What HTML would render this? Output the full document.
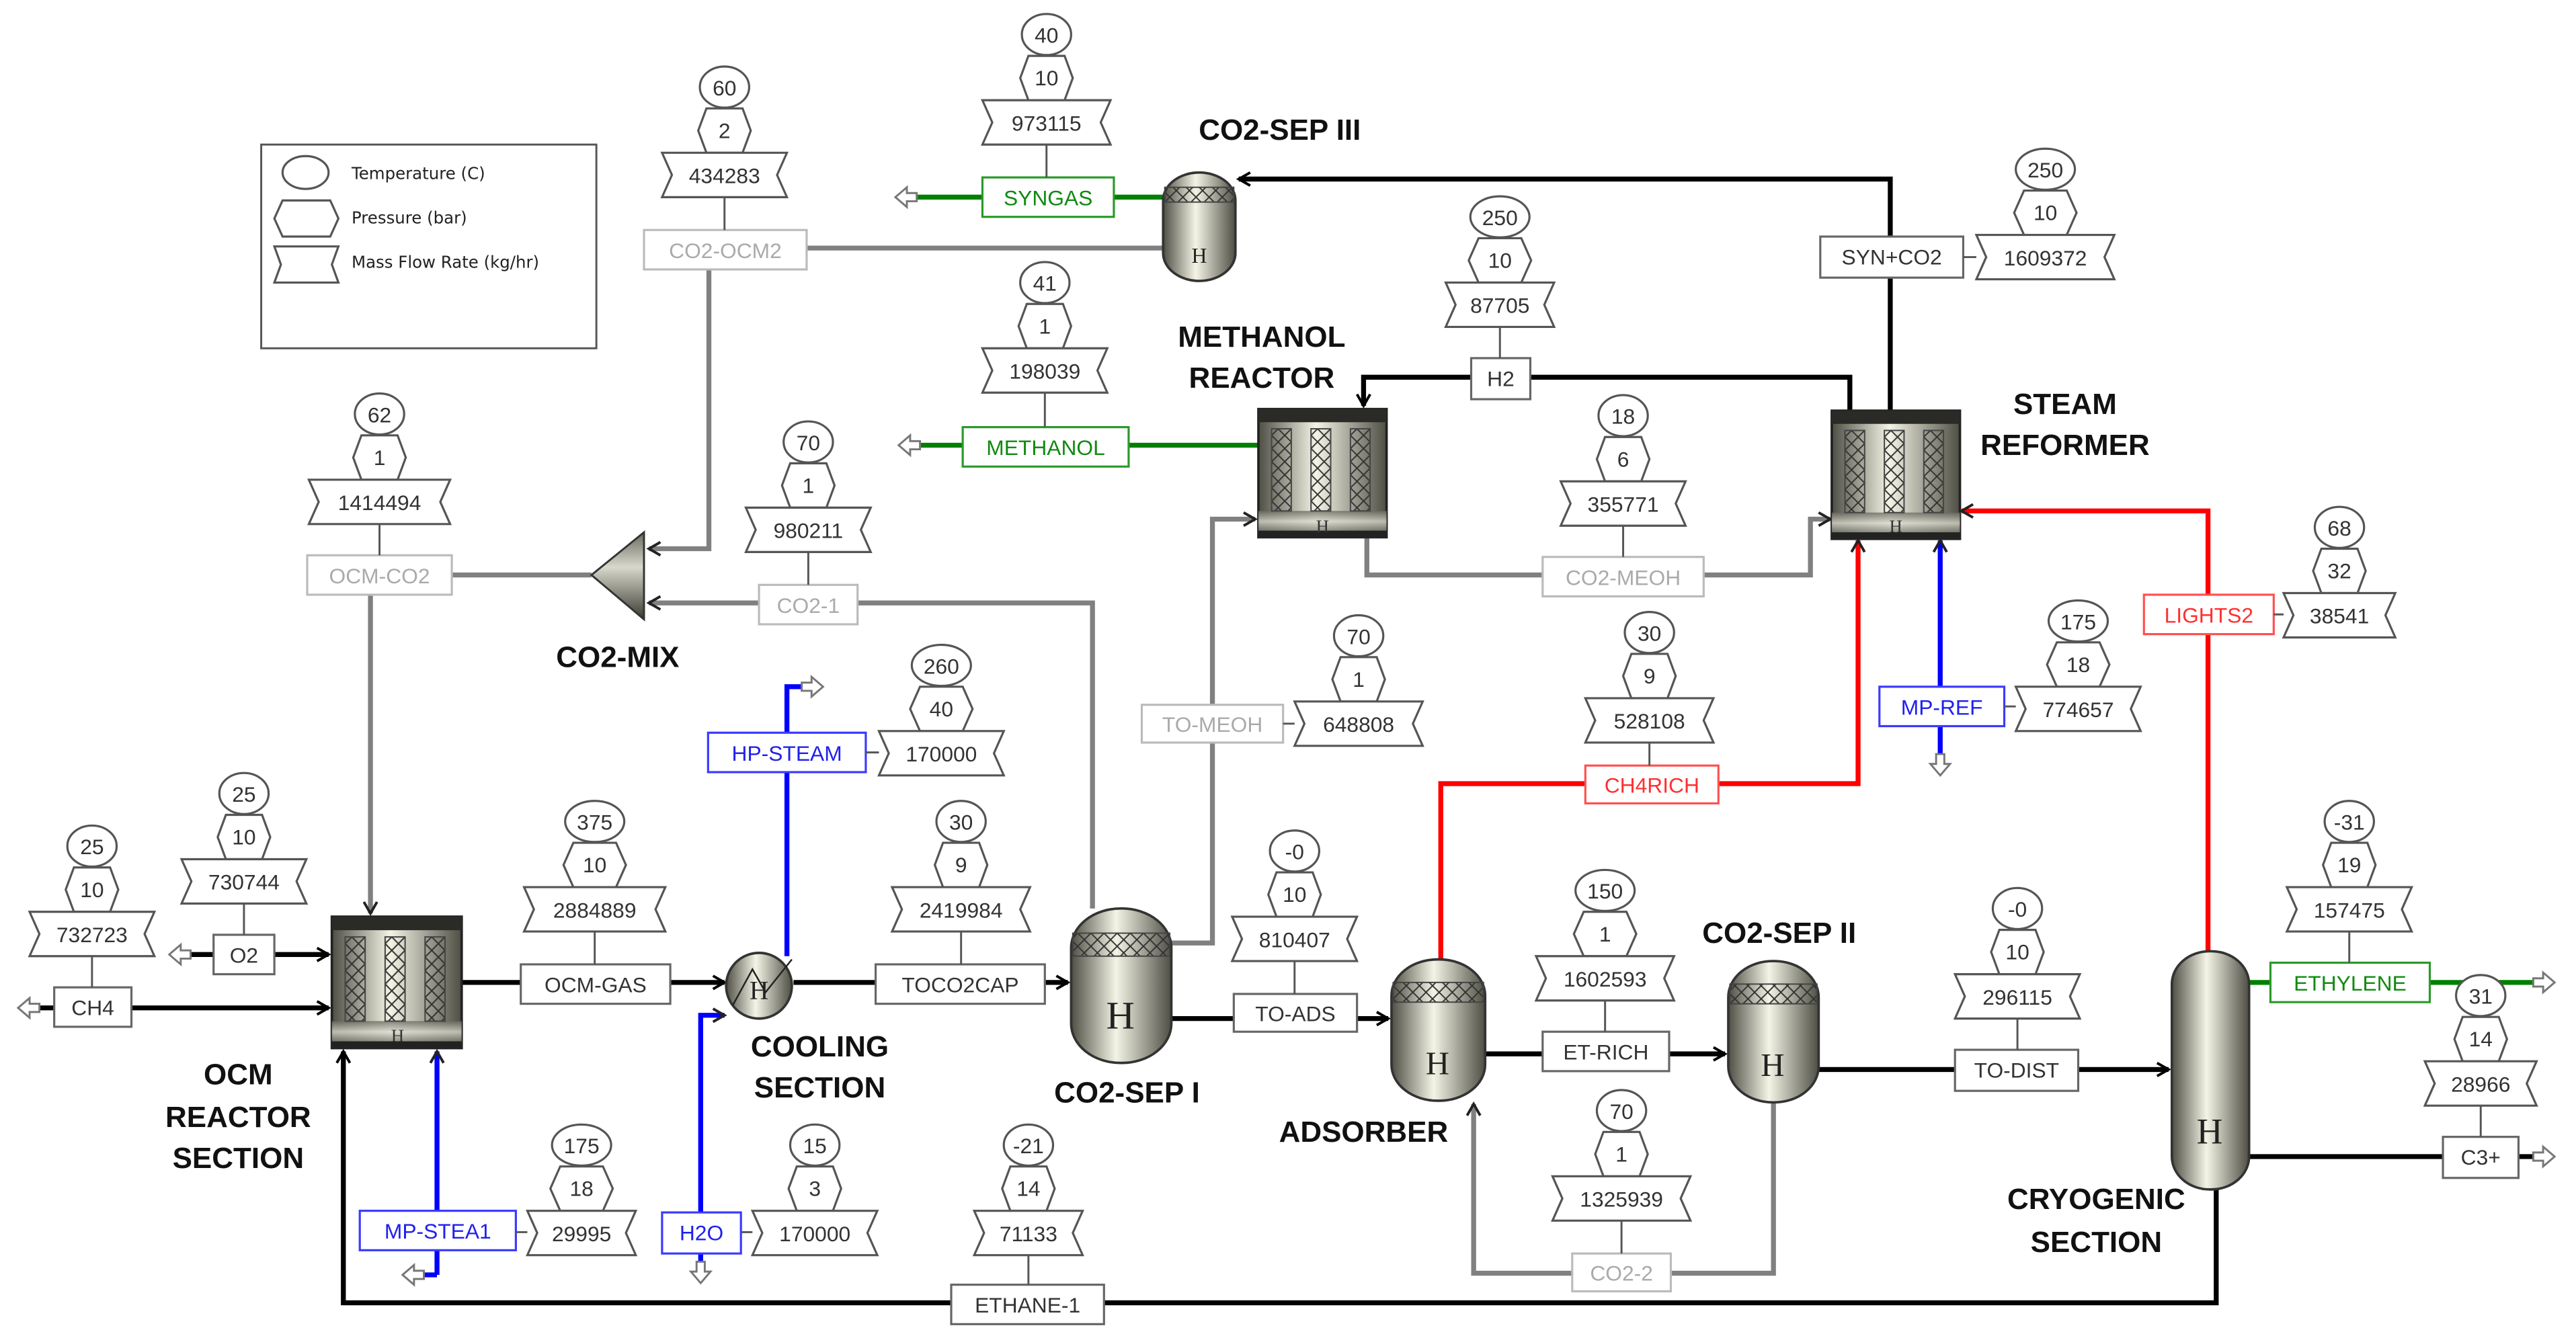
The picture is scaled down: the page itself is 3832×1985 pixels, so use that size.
<!DOCTYPE html>
<html><head><meta charset="utf-8"><style>
html,body{margin:0;padding:0;background:#fff;}
svg{display:block;}
.t{font-family:"Liberation Sans Narrow","Liberation Sans",sans-serif;font-size:13px;fill:#333;text-anchor:middle;}
.lb{font-family:"Liberation Sans",sans-serif;font-weight:bold;font-size:18px;fill:#111;text-anchor:middle;}
.sh{fill:#fff;stroke:#555;stroke-width:1.3;}
.bx{fill:#fff;stroke:#666;stroke-width:1.3;}
.k{fill:none;stroke:#000;stroke-width:3;}
.g{fill:none;stroke:#808080;stroke-width:3;}
.gr{fill:none;stroke:#008000;stroke-width:3;}
.r{fill:none;stroke:#ff0000;stroke-width:3;}
.b{fill:none;stroke:#0000ff;stroke-width:3;}
.c{stroke:#555;stroke-width:1.2;}
.o{fill:#fff;stroke:#777;stroke-width:1.2;}
</style></head><body>
<svg width="3832" height="1985" viewBox="0 0 1568 812" preserveAspectRatio="none" xmlns="http://www.w3.org/2000/svg">
<defs>
<linearGradient id="hg" x1="0" x2="1" y1="0" y2="0"><stop offset="0" stop-color="#4e4e44"/><stop offset="0.45" stop-color="#f4f4e6"/><stop offset="1" stop-color="#4e4e44"/></linearGradient>
<linearGradient id="vg" x1="0" x2="0" y1="0" y2="1"><stop offset="0" stop-color="#6a6a60"/><stop offset="0.4" stop-color="#d8d8cc"/><stop offset="1" stop-color="#3a3a32"/></linearGradient>
<pattern id="xp" width="8" height="8" patternUnits="userSpaceOnUse"><path d="M0,0 L8,8 M8,0 L0,8" stroke="#333" stroke-width="0.8"/></pattern>
<marker id="ak" markerWidth="10" markerHeight="10" refX="8" refY="5" orient="auto" markerUnits="userSpaceOnUse"><path d="M1,1 L8,5 L1,9" fill="none" stroke="#000" stroke-width="1.6"/></marker>
<marker id="ag" markerWidth="10" markerHeight="10" refX="8" refY="5" orient="auto" markerUnits="userSpaceOnUse"><path d="M1,1 L8,5 L1,9" fill="none" stroke="#222" stroke-width="1.6"/></marker>
<marker id="ar" markerWidth="10" markerHeight="10" refX="8" refY="5" orient="auto" markerUnits="userSpaceOnUse"><path d="M1,1 L8,5 L1,9" fill="none" stroke="#222" stroke-width="1.6"/></marker>
<g id="reac">
<rect x="0" y="0" width="78" height="78" fill="url(#hg)" stroke="#222" stroke-width="1.5"/>
<rect x="0" y="0" width="78" height="8" fill="#2a2a26"/>
<rect x="0" y="62" width="78" height="16" fill="url(#vg)" opacity="0.8"/>
<rect x="0" y="74" width="78" height="4" fill="#222"/>
<rect x="8" y="12" width="12" height="50" fill="url(#xp)" stroke="#444" stroke-width="0.8"/>
<rect x="32" y="12" width="12" height="50" fill="url(#xp)" stroke="#444" stroke-width="0.8"/>
<rect x="56" y="12" width="12" height="50" fill="url(#xp)" stroke="#444" stroke-width="0.8"/>
</g>
</defs>

<!-- Legend -->
<rect x="159" y="88" width="204" height="124" fill="#fff" stroke="#555" stroke-width="1.2"/>
<ellipse cx="186" cy="105" rx="14" ry="10" class="sh"/>
<polygon points="172,122 201,122 206,133 201,144 172,144 167,133" class="sh"/>
<polygon points="167,150 206,150 202,161 206,172 167,172 171,161" class="sh"/>
<text x="214" y="109" style="font-family:'DejaVu Sans',sans-serif;font-size:10px;fill:#222">Temperature (C)</text>
<text x="214" y="136" style="font-family:'DejaVu Sans',sans-serif;font-size:10px;fill:#222">Pressure (bar)</text>
<text x="214" y="163" style="font-family:'DejaVu Sans',sans-serif;font-size:10px;fill:#222">Mass Flow Rate (kg/hr)</text>

<!-- STREAMS -->
<path class="k" d="M18,613.5 H200" marker-end="url(#ak)"/>
<path class="k" d="M110,581 H200" marker-end="url(#ak)"/>
<path class="k" d="M281,598 H441" marker-end="url(#ak)"/>
<path class="k" d="M483,598 H650" marker-end="url(#ak)"/>
<path class="k" d="M712,620 H845" marker-end="url(#ak)"/>
<path class="k" d="M904,641.5 H1050" marker-end="url(#ak)"/>
<path class="k" d="M1107,651 H1320" marker-end="url(#ak)"/>
<path class="k" d="M1369,704 H1545"/>
<path class="k" d="M1349,724 V793 H209 V640" marker-end="url(#ak)"/>
<path class="k" d="M1150.6,250 V109 H754" marker-end="url(#ak)"/>
<path class="k" d="M1126,250 V229.6 H830 V247" marker-end="url(#ak)"/>
<path class="g" d="M708,151 H431.5 V334 H395" marker-end="url(#ag)"/>
<path class="g" d="M360,350 H225.5 V556" marker-end="url(#ag)"/>
<path class="g" d="M665,553 V367 H395" marker-end="url(#ag)"/>
<path class="g" d="M712,574 H738 V316 H764" marker-end="url(#ag)"/>
<path class="g" d="M832,327 V350 H1102 V316 H1114" marker-end="url(#ag)"/>
<path class="g" d="M1079.5,671 V775 H897 V672" marker-end="url(#ag)"/>
<path class="gr" d="M708,120 H552"/>
<path class="gr" d="M766,271 H554"/>
<path class="gr" d="M1369,598 H1545"/>
<path class="r" d="M877,584 V477 H1131 V329" marker-end="url(#ar)"/>
<path class="r" d="M1344,579 V311 H1194" marker-end="url(#ar)"/>
<path class="b" d="M1181,464 V329" marker-end="url(#ar)"/>
<path class="b" d="M479,582 V418 H491"/>
<path class="b" d="M426.5,772 V618 H441" marker-end="url(#ar)"/>
<path class="b" d="M266,776 V640" marker-end="url(#ar)"/>
<path class="b" d="M266,776 H252"/>

<!-- outlet arrows -->
<path class="o" d="M11,613.5 l7,-6 v3.5 h6 v5 h-6 v3.5 z"/>
<path class="o" d="M103,581 l7,-6 v3.5 h6 v5 h-6 v3.5 z"/>
<path class="o" d="M545,120 l7,-6 v3.5 h6 v5 h-6 v3.5 z"/>
<path class="o" d="M547,271 l7,-6 v3.5 h6 v5 h-6 v3.5 z"/>
<path class="o" d="M245,776 l7,-6 v3.5 h6 v5 h-6 v3.5 z"/>
<path class="o" d="M1555,598 l-7,-6 v3.5 h-6 v5 h6 v3.5 z"/>
<path class="o" d="M1555,704 l-7,-6 v3.5 h-6 v5 h6 v3.5 z"/>
<path class="o" d="M501,418 l-7,-6 v3.5 h-6 v5 h6 v3.5 z"/>
<path class="o" d="M1181,472 l-6,-7 h3.5 v-6 h5 v6 h3.5 z"/>
<path class="o" d="M426.5,781 l-6,-7 h3.5 v-6 h5 v6 h3.5 z"/>

<!-- EQUIPMENT -->
<use href="#reac" x="202" y="558" transform="translate(202,558) scale(1.013,1.025) translate(-202,-558)"/>
<use href="#reac" x="766" y="249"/>
<use href="#reac" x="1115" y="250"/>
<text x="242" y="634" style="font-family:'Liberation Serif',serif;font-size:11px;fill:#333;text-anchor:middle">H</text>
<text x="805" y="324" style="font-family:'Liberation Serif',serif;font-size:11px;fill:#333;text-anchor:middle">H</text>
<text x="1154" y="324" style="font-family:'Liberation Serif',serif;font-size:11px;fill:#333;text-anchor:middle">H</text>

<!-- mixer -->
<polygon points="360,350 392,324 392,377" fill="url(#vg)" stroke="#333" stroke-width="1.2"/>

<!-- cooler -->
<circle cx="462" cy="600" r="20" fill="url(#hg)" stroke="#333" stroke-width="1.5"/>
<path d="M446,612 L458,590 L466,604 L482,584" fill="none" stroke="#222" stroke-width="1"/>
<text x="462" y="608" style="font-family:'Liberation Serif',serif;font-size:16px;fill:#222;text-anchor:middle">H</text>

<!-- vessels -->
<rect x="652" y="553" width="61" height="94" rx="30" ry="24" fill="url(#hg)" stroke="#333" stroke-width="1.5"/>
<rect x="653" y="568" width="59" height="14" fill="url(#xp)" stroke="#444" stroke-width="0.8"/>
<text x="682" y="626" style="font-family:'Liberation Serif',serif;font-size:24px;fill:#222;text-anchor:middle">H</text>
<rect x="847" y="584" width="57" height="86" rx="28" ry="22" fill="url(#hg)" stroke="#333" stroke-width="1.5"/>
<rect x="848" y="598" width="55" height="12" fill="url(#xp)" stroke="#444" stroke-width="0.8"/>
<text x="875" y="654" style="font-family:'Liberation Serif',serif;font-size:20px;fill:#222;text-anchor:middle">H</text>
<rect x="1052" y="585" width="55" height="86" rx="27" ry="22" fill="url(#hg)" stroke="#333" stroke-width="1.5"/>
<rect x="1053" y="599" width="53" height="12" fill="url(#xp)" stroke="#444" stroke-width="0.8"/>
<text x="1079" y="655" style="font-family:'Liberation Serif',serif;font-size:20px;fill:#222;text-anchor:middle">H</text>
<rect x="708" y="105" width="44" height="66" rx="22" ry="17" fill="url(#hg)" stroke="#333" stroke-width="1.5"/>
<rect x="709" y="114" width="42" height="9" fill="url(#xp)" stroke="#444" stroke-width="0.8"/>
<text x="730" y="160" style="font-family:'Liberation Serif',serif;font-size:13px;fill:#222;text-anchor:middle">H</text>
<rect x="1322" y="579" width="47" height="145" rx="23" ry="20" fill="url(#hg)" stroke="#333" stroke-width="1.5"/>
<text x="1345" y="696" style="font-family:'Liberation Serif',serif;font-size:22px;fill:#222;text-anchor:middle">H</text>

<!-- BOXES -->
<g>
<rect x="598" y="108" width="80" height="24" fill="#fff" stroke="#2a9a2a" stroke-width="1.3"/><text class="t" x="638" y="125" style="fill:#108a10">SYNGAS</text>
<rect x="392" y="140" width="99" height="24" fill="#fff" stroke="#bbb" stroke-width="1.3"/><text class="t" x="441.5" y="157" style="fill:#aaa">CO2-OCM2</text>
<rect x="1108" y="144" width="87" height="25" class="bx"/><text class="t" x="1151.5" y="161">SYN+CO2</text>
<rect x="895.5" y="218" width="36" height="25" class="bx"/><text class="t" x="913.5" y="235">H2</text>
<rect x="586" y="260" width="101" height="24" fill="#fff" stroke="#2a9a2a" stroke-width="1.3"/><text class="t" x="636.5" y="277" style="fill:#108a10">METHANOL</text>
<rect x="187" y="338" width="88" height="24" fill="#fff" stroke="#bbb" stroke-width="1.3"/><text class="t" x="231" y="355" style="fill:#aaa">OCM-CO2</text>
<rect x="462" y="356" width="60" height="24" fill="#fff" stroke="#bbb" stroke-width="1.3"/><text class="t" x="492" y="373" style="fill:#aaa">CO2-1</text>
<rect x="939" y="339" width="98" height="24" fill="#fff" stroke="#bbb" stroke-width="1.3"/><text class="t" x="988" y="356" style="fill:#aaa">CO2-MEOH</text>
<rect x="1305" y="362" width="79" height="24" fill="#fff" stroke="#ff5050" stroke-width="1.3"/><text class="t" x="1344.5" y="379" style="fill:#ff3030">LIGHTS2</text>
<rect x="1144" y="418" width="76" height="24" fill="#fff" stroke="#3a3aff" stroke-width="1.3"/><text class="t" x="1182" y="435" style="fill:#2020ee">MP-REF</text>
<rect x="695" y="429" width="86" height="23" fill="#fff" stroke="#bbb" stroke-width="1.3"/><text class="t" x="738" y="445.5" style="fill:#aaa">TO-MEOH</text>
<rect x="965" y="466" width="81" height="23" fill="#fff" stroke="#ff5050" stroke-width="1.3"/><text class="t" x="1005.5" y="482.5" style="fill:#ff3030">CH4RICH</text>
<rect x="431" y="446" width="96" height="24" fill="#fff" stroke="#3a3aff" stroke-width="1.3"/><text class="t" x="479" y="463" style="fill:#2020ee">HP-STEAM</text>
<rect x="130" y="569" width="37" height="24" class="bx"/><text class="t" x="148.5" y="586">O2</text>
<rect x="33" y="601" width="47" height="24" class="bx"/><text class="t" x="56.5" y="618">CH4</text>
<rect x="317" y="587" width="91" height="24" class="bx"/><text class="t" x="362.5" y="604">OCM-GAS</text>
<rect x="533" y="587" width="103" height="24" class="bx"/><text class="t" x="584.5" y="604">TOCO2CAP</text>
<rect x="751" y="605" width="75" height="23" class="bx"/><text class="t" x="788.5" y="621.5">TO-ADS</text>
<rect x="939" y="628" width="77" height="24" class="bx"/><text class="t" x="977.5" y="645">ET-RICH</text>
<rect x="1190" y="639" width="75" height="25" class="bx"/><text class="t" x="1227.5" y="656">TO-DIST</text>
<rect x="1382" y="586" width="97" height="24" fill="#fff" stroke="#2a9a2a" stroke-width="1.3"/><text class="t" x="1430.5" y="603" style="fill:#108a10">ETHYLENE</text>
<rect x="1487" y="692" width="46" height="25" class="bx"/><text class="t" x="1510" y="709">C3+</text>
<rect x="957" y="763" width="60" height="23" fill="#fff" stroke="#bbb" stroke-width="1.3"/><text class="t" x="987" y="779.5" style="fill:#aaa">CO2-2</text>
<rect x="219" y="737" width="95" height="24" fill="#fff" stroke="#3a3aff" stroke-width="1.3"/><text class="t" x="266.5" y="754" style="fill:#2020ee">MP-STEA1</text>
<rect x="403" y="738" width="48" height="25" fill="#fff" stroke="#3a3aff" stroke-width="1.3"/><text class="t" x="427" y="755" style="fill:#2020ee">H2O</text>
<rect x="579" y="782" width="93" height="24" class="bx"/><text class="t" x="625.5" y="799">ETHANE-1</text>
</g>

<!-- connectors tag->box -->
<g class="c">
<line x1="637" y1="88" x2="637" y2="108"/>
<line x1="441" y1="120" x2="441" y2="140"/>
<line x1="1195" y1="156.5" x2="1203" y2="156.5"/>
<line x1="913" y1="199" x2="913" y2="218"/>
<line x1="636" y1="239" x2="636" y2="260"/>
<line x1="231" y1="319" x2="231" y2="338"/>
<line x1="492" y1="336" x2="492" y2="356"/>
<line x1="988" y1="320" x2="988" y2="339"/>
<line x1="1384" y1="374" x2="1390" y2="374"/>
<line x1="1220" y1="430" x2="1227" y2="430"/>
<line x1="781" y1="440.5" x2="788" y2="440.5"/>
<line x1="1004" y1="452" x2="1004" y2="466"/>
<line x1="527" y1="458" x2="535" y2="458"/>
<line x1="148.5" y1="550" x2="148.5" y2="569"/>
<line x1="56" y1="582" x2="56" y2="601"/>
<line x1="362" y1="567" x2="362" y2="587"/>
<line x1="585" y1="567" x2="585" y2="587"/>
<line x1="788" y1="585" x2="788" y2="605"/>
<line x1="977" y1="609" x2="977" y2="628"/>
<line x1="1228" y1="620" x2="1228" y2="639"/>
<line x1="1430" y1="567" x2="1430" y2="586"/>
<line x1="1510" y1="673" x2="1510" y2="692"/>
<line x1="987" y1="743" x2="987" y2="763"/>
<line x1="314" y1="750" x2="321" y2="750"/>
<line x1="451" y1="750" x2="458" y2="750"/>
<line x1="626" y1="764" x2="626" y2="782"/>
</g>

<!-- TAGS: ellipse / hexagon / bowtie -->
<g id="tags">
<!-- helper pattern: translate(cx,yb) -->
<g transform="translate(637,61)"><ellipse cx="0" cy="-40" rx="15" ry="12.5" class="sh"/><polygon points="-11,-27 11,-27 16,-13.5 11,0 -11,0 -16,-13.5" class="sh"/><polygon points="-39,0 39,0 33,13.5 39,27 -39,27 -33,13.5" class="sh"/><text class="t" y="-35">40</text><text class="t" y="-9">10</text><text class="t" y="18.5">973115</text></g>
<g transform="translate(441,93)"><ellipse cx="0" cy="-40" rx="15" ry="12.5" class="sh"/><polygon points="-11,-27 11,-27 16,-13.5 11,0 -11,0 -16,-13.5" class="sh"/><polygon points="-38,0 38,0 32,13.5 38,27 -38,27 -32,13.5" class="sh"/><text class="t" y="-35">60</text><text class="t" y="-9">2</text><text class="t" y="18.5">434283</text></g>
<g transform="translate(1245,143)"><ellipse cx="0" cy="-40" rx="18" ry="12.5" class="sh"/><polygon points="-13,-27 13,-27 19,-13.5 13,0 -13,0 -19,-13.5" class="sh"/><polygon points="-42,0 42,0 36,13.5 42,27 -42,27 -36,13.5" class="sh"/><text class="t" y="-35">250</text><text class="t" y="-9">10</text><text class="t" y="18.5">1609372</text></g>
<g transform="translate(913,172)"><ellipse cx="0" cy="-40" rx="18" ry="12.5" class="sh"/><polygon points="-13,-27 13,-27 19,-13.5 13,0 -13,0 -19,-13.5" class="sh"/><polygon points="-33,0 33,0 27,13.5 33,27 -33,27 -27,13.5" class="sh"/><text class="t" y="-35">250</text><text class="t" y="-9">10</text><text class="t" y="18.5">87705</text></g>
<g transform="translate(636,212)"><ellipse cx="0" cy="-40" rx="15" ry="12.5" class="sh"/><polygon points="-11,-27 11,-27 16,-13.5 11,0 -11,0 -16,-13.5" class="sh"/><polygon points="-38,0 38,0 32,13.5 38,27 -38,27 -32,13.5" class="sh"/><text class="t" y="-35">41</text><text class="t" y="-9">1</text><text class="t" y="18.5">198039</text></g>
<g transform="translate(231,292)"><ellipse cx="0" cy="-40" rx="15" ry="12.5" class="sh"/><polygon points="-11,-27 11,-27 16,-13.5 11,0 -11,0 -16,-13.5" class="sh"/><polygon points="-43,0 43,0 37,13.5 43,27 -43,27 -37,13.5" class="sh"/><text class="t" y="-35">62</text><text class="t" y="-9">1</text><text class="t" y="18.5">1414494</text></g>
<g transform="translate(492,309)"><ellipse cx="0" cy="-40" rx="15" ry="12.5" class="sh"/><polygon points="-11,-27 11,-27 16,-13.5 11,0 -11,0 -16,-13.5" class="sh"/><polygon points="-38,0 38,0 32,13.5 38,27 -38,27 -32,13.5" class="sh"/><text class="t" y="-35">70</text><text class="t" y="-9">1</text><text class="t" y="18.5">980211</text></g>
<g transform="translate(988,293)"><ellipse cx="0" cy="-40" rx="15" ry="12.5" class="sh"/><polygon points="-11,-27 11,-27 16,-13.5 11,0 -11,0 -16,-13.5" class="sh"/><polygon points="-38,0 38,0 32,13.5 38,27 -38,27 -32,13.5" class="sh"/><text class="t" y="-35">18</text><text class="t" y="-9">6</text><text class="t" y="18.5">355771</text></g>
<g transform="translate(1424,361)"><ellipse cx="0" cy="-40" rx="15" ry="12.5" class="sh"/><polygon points="-11,-27 11,-27 16,-13.5 11,0 -11,0 -16,-13.5" class="sh"/><polygon points="-34,0 34,0 28,13.5 34,27 -34,27 -28,13.5" class="sh"/><text class="t" y="-35">68</text><text class="t" y="-9">32</text><text class="t" y="18.5">38541</text></g>
<g transform="translate(1265,418)"><ellipse cx="0" cy="-40" rx="18" ry="12.5" class="sh"/><polygon points="-13,-27 13,-27 19,-13.5 13,0 -13,0 -19,-13.5" class="sh"/><polygon points="-38,0 38,0 32,13.5 38,27 -38,27 -32,13.5" class="sh"/><text class="t" y="-35">175</text><text class="t" y="-9">18</text><text class="t" y="18.5">774657</text></g>
<g transform="translate(827,427)"><ellipse cx="0" cy="-40" rx="15" ry="12.5" class="sh"/><polygon points="-11,-27 11,-27 16,-13.5 11,0 -11,0 -16,-13.5" class="sh"/><polygon points="-39,0 39,0 33,13.5 39,27 -39,27 -33,13.5" class="sh"/><text class="t" y="-35">70</text><text class="t" y="-9">1</text><text class="t" y="18.5">648808</text></g>
<g transform="translate(1004,425)"><ellipse cx="0" cy="-40" rx="15" ry="12.5" class="sh"/><polygon points="-11,-27 11,-27 16,-13.5 11,0 -11,0 -16,-13.5" class="sh"/><polygon points="-39,0 39,0 33,13.5 39,27 -39,27 -33,13.5" class="sh"/><text class="t" y="-35">30</text><text class="t" y="-9">9</text><text class="t" y="18.5">528108</text></g>
<g transform="translate(573,445)"><ellipse cx="0" cy="-40" rx="18" ry="12.5" class="sh"/><polygon points="-13,-27 13,-27 19,-13.5 13,0 -13,0 -19,-13.5" class="sh"/><polygon points="-38,0 38,0 32,13.5 38,27 -38,27 -32,13.5" class="sh"/><text class="t" y="-35">260</text><text class="t" y="-9">40</text><text class="t" y="18.5">170000</text></g>
<g transform="translate(148.5,523)"><ellipse cx="0" cy="-40" rx="15" ry="12.5" class="sh"/><polygon points="-11,-27 11,-27 16,-13.5 11,0 -11,0 -16,-13.5" class="sh"/><polygon points="-38,0 38,0 32,13.5 38,27 -38,27 -32,13.5" class="sh"/><text class="t" y="-35">25</text><text class="t" y="-9">10</text><text class="t" y="18.5">730744</text></g>
<g transform="translate(56,555)"><ellipse cx="0" cy="-40" rx="15" ry="12.5" class="sh"/><polygon points="-11,-27 11,-27 16,-13.5 11,0 -11,0 -16,-13.5" class="sh"/><polygon points="-38,0 38,0 32,13.5 38,27 -38,27 -32,13.5" class="sh"/><text class="t" y="-35">25</text><text class="t" y="-9">10</text><text class="t" y="18.5">732723</text></g>
<g transform="translate(362,540)"><ellipse cx="0" cy="-40" rx="18" ry="12.5" class="sh"/><polygon points="-13,-27 13,-27 19,-13.5 13,0 -13,0 -19,-13.5" class="sh"/><polygon points="-43,0 43,0 37,13.5 43,27 -43,27 -37,13.5" class="sh"/><text class="t" y="-35">375</text><text class="t" y="-9">10</text><text class="t" y="18.5">2884889</text></g>
<g transform="translate(585,540)"><ellipse cx="0" cy="-40" rx="15" ry="12.5" class="sh"/><polygon points="-11,-27 11,-27 16,-13.5 11,0 -11,0 -16,-13.5" class="sh"/><polygon points="-42,0 42,0 36,13.5 42,27 -42,27 -36,13.5" class="sh"/><text class="t" y="-35">30</text><text class="t" y="-9">9</text><text class="t" y="18.5">2419984</text></g>
<g transform="translate(788,558)"><ellipse cx="0" cy="-40" rx="15" ry="12.5" class="sh"/><polygon points="-11,-27 11,-27 16,-13.5 11,0 -11,0 -16,-13.5" class="sh"/><polygon points="-38,0 38,0 32,13.5 38,27 -38,27 -32,13.5" class="sh"/><text class="t" y="-35">-0</text><text class="t" y="-9">10</text><text class="t" y="18.5">810407</text></g>
<g transform="translate(977,582)"><ellipse cx="0" cy="-40" rx="18" ry="12.5" class="sh"/><polygon points="-13,-27 13,-27 19,-13.5 13,0 -13,0 -19,-13.5" class="sh"/><polygon points="-42,0 42,0 36,13.5 42,27 -42,27 -36,13.5" class="sh"/><text class="t" y="-35">150</text><text class="t" y="-9">1</text><text class="t" y="18.5">1602593</text></g>
<g transform="translate(1228,593)"><ellipse cx="0" cy="-40" rx="15" ry="12.5" class="sh"/><polygon points="-11,-27 11,-27 16,-13.5 11,0 -11,0 -16,-13.5" class="sh"/><polygon points="-38,0 38,0 32,13.5 38,27 -38,27 -32,13.5" class="sh"/><text class="t" y="-35">-0</text><text class="t" y="-9">10</text><text class="t" y="18.5">296115</text></g>
<g transform="translate(1430,540)"><ellipse cx="0" cy="-40" rx="15" ry="12.5" class="sh"/><polygon points="-11,-27 11,-27 16,-13.5 11,0 -11,0 -16,-13.5" class="sh"/><polygon points="-38,0 38,0 32,13.5 38,27 -38,27 -32,13.5" class="sh"/><text class="t" y="-35">-31</text><text class="t" y="-9">19</text><text class="t" y="18.5">157475</text></g>
<g transform="translate(1510,646)"><ellipse cx="0" cy="-40" rx="15" ry="12.5" class="sh"/><polygon points="-11,-27 11,-27 16,-13.5 11,0 -11,0 -16,-13.5" class="sh"/><polygon points="-34,0 34,0 28,13.5 34,27 -34,27 -28,13.5" class="sh"/><text class="t" y="-35">31</text><text class="t" y="-9">14</text><text class="t" y="18.5">28966</text></g>
<g transform="translate(987,716)"><ellipse cx="0" cy="-40" rx="15" ry="12.5" class="sh"/><polygon points="-11,-27 11,-27 16,-13.5 11,0 -11,0 -16,-13.5" class="sh"/><polygon points="-42,0 42,0 36,13.5 42,27 -42,27 -36,13.5" class="sh"/><text class="t" y="-35">70</text><text class="t" y="-9">1</text><text class="t" y="18.5">1325939</text></g>
<g transform="translate(354,737)"><ellipse cx="0" cy="-40" rx="18" ry="12.5" class="sh"/><polygon points="-13,-27 13,-27 19,-13.5 13,0 -13,0 -19,-13.5" class="sh"/><polygon points="-33,0 33,0 27,13.5 33,27 -33,27 -27,13.5" class="sh"/><text class="t" y="-35">175</text><text class="t" y="-9">18</text><text class="t" y="18.5">29995</text></g>
<g transform="translate(496,737)"><ellipse cx="0" cy="-40" rx="15" ry="12.5" class="sh"/><polygon points="-11,-27 11,-27 16,-13.5 11,0 -11,0 -16,-13.5" class="sh"/><polygon points="-38,0 38,0 32,13.5 38,27 -38,27 -32,13.5" class="sh"/><text class="t" y="-35">15</text><text class="t" y="-9">3</text><text class="t" y="18.5">170000</text></g>
<g transform="translate(626,737)"><ellipse cx="0" cy="-40" rx="15" ry="12.5" class="sh"/><polygon points="-11,-27 11,-27 16,-13.5 11,0 -11,0 -16,-13.5" class="sh"/><polygon points="-33,0 33,0 27,13.5 33,27 -33,27 -27,13.5" class="sh"/><text class="t" y="-35">-21</text><text class="t" y="-9">14</text><text class="t" y="18.5">71133</text></g>
</g>

<!-- SECTION LABELS -->
<text class="lb" x="779" y="85">CO2-SEP III</text>
<text class="lb" x="768" y="211">METHANOL</text>
<text class="lb" x="768" y="236">REACTOR</text>
<text class="lb" x="1257" y="252">STEAM</text>
<text class="lb" x="1257" y="277">REFORMER</text>
<text class="lb" x="376" y="406">CO2-MIX</text>
<text class="lb" x="499" y="643">COOLING</text>
<text class="lb" x="499" y="668">SECTION</text>
<text class="lb" x="686" y="671">CO2-SEP I</text>
<text class="lb" x="830" y="695">ADSORBER</text>
<text class="lb" x="1083" y="574">CO2-SEP II</text>
<text class="lb" x="1276" y="736">CRYOGENIC</text>
<text class="lb" x="1276" y="762">SECTION</text>
<text class="lb" x="145" y="660">OCM</text>
<text class="lb" x="145" y="686">REACTOR</text>
<text class="lb" x="145" y="711">SECTION</text>
</svg>
</body></html>
